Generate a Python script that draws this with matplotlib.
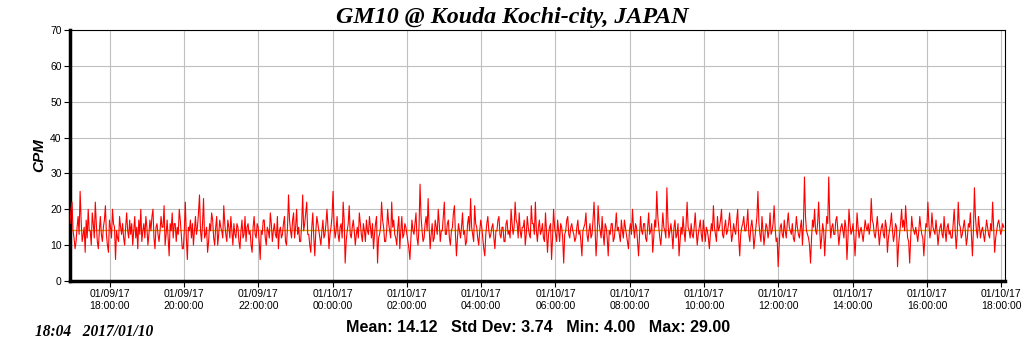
import matplotlib
matplotlib.use("Agg")
import matplotlib.pyplot as plt
import matplotlib.dates as mdates
import pandas as pd

TITLE = "GM10 @ Kouda Kochi-city, JAPAN"
Y_LABEL = "CPM"
STATS = "Mean: 14.12   Std Dev: 3.74   Min: 4.00   Max: 29.00"
STAMP = "18:04   2017/01/10"
MEAN = 14.12
START = "2017-01-09 16:56"
LAST = "2017-01-10 18:04"
END = "2017-01-10 18:06"
Y_TICKS = [0, 10, 20, 30, 40, 50, 60, 70]
X_TICKS = ["2017-01-09 18:00", "2017-01-09 20:00", "2017-01-09 22:00",
           "2017-01-10 00:00", "2017-01-10 02:00", "2017-01-10 04:00",
           "2017-01-10 06:00", "2017-01-10 08:00", "2017-01-10 10:00",
           "2017-01-10 12:00", "2017-01-10 14:00", "2017-01-10 16:00",
           "2017-01-10 18:00"]

cpm = [
    # 17:00 - 18:10
    16, 20, 22, 14, 12, 9, 11, 15, 18, 13, 25, 17, 11, 13, 15, 8, 17, 12, 20, 14,
    14, 10, 19, 16, 12, 22, 16, 11, 9, 14, 18, 13, 11, 15, 17, 21, 13, 10, 8, 17,
    15, 12, 20, 16, 15, 6, 14, 12, 11, 18, 15, 13, 16, 12, 10, 15, 19, 14, 12, 17,
    13, 16, 10, 14, 18, 12, 15, 9, 17, 13, 20, 11, 14, 16, 12, 18, 15, 10, 13, 17,
    # 18:10 - 20:30
    14, 18, 20, 12, 9, 15, 16, 13, 11, 14, 18, 15, 15, 21, 10, 13, 17, 12, 7, 16,
    14, 19, 12, 16, 16, 11, 15, 13, 20, 17, 13, 9, 9, 14, 22, 12, 6, 15, 14, 17,
    12, 16, 10, 14, 18, 13, 15, 19, 24, 14, 11, 16, 23, 12, 13, 15, 8, 11, 16, 14,
    19, 17, 12, 10, 15, 18, 10, 13, 17, 15, 14, 12, 21, 16, 13, 11, 17, 15, 12, 18,
    14, 10, 16, 13,
    # 20:30 - 22:50
    12, 16, 15, 11, 9, 14, 17, 12, 13, 18, 11, 15, 16, 13, 14, 10, 8, 15, 18, 13,
    12, 16, 15, 11, 6, 14, 13, 17, 17, 12, 10, 15, 14, 12, 19, 16, 11, 14, 16, 13,
    12, 18, 9, 14, 15, 12, 13, 16, 18, 11, 10, 15, 24, 17, 14, 12, 17, 19, 12, 15,
    20, 13, 15, 11, 11, 16, 24, 14, 16, 19, 22, 13, 13, 10, 8, 15, 19, 12, 7, 14,
    18, 16, 14, 12,
    # 22:50 - 01:10
    10, 14, 17, 12, 13, 16, 20, 15, 9, 13, 15, 18, 25, 16, 12, 14, 18, 13, 11, 15,
    16, 12, 22, 17, 5, 11, 14, 16, 21, 13, 12, 15, 17, 14, 10, 13, 15, 12, 19, 16,
    13, 11, 16, 14, 11, 17, 14, 13, 18, 15, 12, 16, 9, 13, 16, 18, 5, 12, 13, 15,
    22, 17, 15, 11, 11, 14, 20, 16, 14, 12, 22, 15, 17, 13, 12, 10, 15, 18, 9, 14,
    18, 12, 13, 16,
    # 01:10 - 03:30
    15, 13, 11, 9, 6, 12, 17, 14, 13, 16, 19, 12, 10, 15, 27, 18, 14, 11, 12, 16,
    18, 14, 23, 15, 9, 13, 16, 11, 12, 17, 15, 13, 20, 16, 11, 14, 14, 18, 22, 13,
    13, 16, 17, 12, 10, 14, 15, 19, 21, 13, 7, 12, 16, 14, 12, 15, 19, 13, 14, 10,
    11, 16, 18, 14, 23, 15, 13, 11, 21, 16, 15, 12, 10, 14, 17, 15, 12, 9, 7, 13,
    16, 18, 14, 12,
    # 03:30 - 05:50
    13, 15, 16, 12, 9, 14, 14, 17, 18, 13, 12, 15, 15, 11, 11, 16, 17, 13, 14, 12,
    20, 16, 13, 15, 22, 17, 16, 12, 19, 14, 12, 15, 15, 17, 10, 13, 18, 15, 13, 12,
    21, 16, 16, 13, 22, 14, 11, 15, 17, 13, 14, 16, 12, 11, 19, 14, 8, 13, 15, 16,
    6, 12, 20, 15, 13, 11, 17, 14, 11, 16, 15, 12, 5, 13, 14, 17, 18, 13, 12, 15,
    16, 14, 13, 11,
    # 05:50 - 08:10
    12, 15, 17, 13, 14, 11, 7, 14, 15, 16, 19, 13, 11, 14, 16, 12, 13, 17, 22, 15,
    7, 12, 21, 16, 14, 12, 18, 13, 10, 16, 15, 12, 7, 14, 13, 16, 16, 11, 12, 15,
    19, 14, 15, 13, 11, 17, 14, 12, 17, 15, 13, 11, 9, 14, 16, 13, 20, 15, 12, 16,
    15, 11, 7, 13, 18, 14, 13, 16, 16, 12, 11, 15, 19, 13, 14, 16, 8, 12, 17, 15,
    25, 18, 15, 12,
    # 08:10 - 10:30
    10, 14, 19, 15, 14, 12, 26, 17, 12, 14, 16, 13, 9, 15, 17, 12, 13, 16, 7, 11,
    15, 13, 18, 14, 11, 16, 22, 15, 14, 12, 16, 13, 12, 15, 19, 14, 10, 13, 15, 17,
    13, 11, 17, 14, 11, 15, 14, 12, 9, 13, 16, 14, 21, 15, 13, 11, 18, 14, 15, 17,
    20, 13, 12, 15, 17, 13, 14, 16, 19, 15, 11, 13, 16, 14, 13, 17, 20, 12, 7, 13,
    15, 16, 18, 14,
    # 10:30 - 12:50
    14, 16, 20, 13, 11, 15, 17, 14, 9, 12, 15, 18, 25, 16, 13, 11, 18, 14, 10, 13,
    16, 15, 12, 14, 19, 13, 14, 16, 21, 15, 11, 12, 4, 10, 15, 16, 13, 12, 17, 14,
    12, 16, 19, 15, 14, 13, 16, 12, 11, 14, 18, 15, 13, 12, 15, 17, 10, 16, 29, 18,
    14, 13, 12, 10, 5, 12, 17, 15, 20, 14, 13, 16, 22, 15, 9, 12, 16, 14, 7, 13,
    18, 16, 29, 17,
    # 12:50 - 15:10
    12, 15, 16, 13, 13, 17, 18, 14, 10, 13, 15, 16, 14, 12, 17, 15, 6, 12, 20, 16,
    13, 14, 16, 12, 7, 13, 19, 15, 12, 14, 15, 13, 11, 14, 17, 15, 14, 16, 13, 15,
    23, 17, 16, 13, 12, 15, 18, 14, 10, 13, 15, 16, 13, 12, 17, 15, 8, 12, 14, 16,
    19, 14, 11, 13, 16, 15, 4, 10, 13, 16, 20, 15, 17, 14, 21, 16, 12, 11, 5, 12,
    18, 15, 14, 13,
    # 15:10 - 18:04
    15, 13, 11, 14, 18, 15, 13, 12, 7, 12, 16, 15, 22, 16, 12, 14, 19, 15, 14, 13,
    17, 14, 10, 13, 15, 16, 13, 12, 18, 14, 11, 15, 16, 13, 14, 12, 12, 16, 20, 14,
    9, 13, 22, 16, 15, 12, 13, 15, 17, 14, 10, 12, 16, 15, 19, 13, 7, 14, 26, 18,
    14, 12, 18, 15, 12, 14, 15, 13, 11, 14, 17, 15, 13, 12, 16, 14, 22, 15, 8, 12,
    14, 16, 17, 15, 13, 14, 16, 15,
]

times = pd.date_range(START, LAST, periods=len(cpm))

fig = plt.figure(figsize=(10.24, 3.51), dpi=100)
ax = fig.add_axes([70 / 1024, 1 - 281 / 351, 935 / 1024, 251 / 351])

ax.plot(times, cpm, color="#ff0000", linewidth=0.8, zorder=3)
ax.axhline(MEAN, color="#d9a300", linewidth=1.0, zorder=2)

ax.set_ylim(0, 70)
ax.set_xlim(pd.Timestamp(START), pd.Timestamp(END))
ax.set_yticks(Y_TICKS)
ax.set_xticks([pd.Timestamp(t) for t in X_TICKS])
ax.xaxis.set_major_formatter(mdates.DateFormatter("%m/%d/%y\n%H:%M:%S"))

ax.grid(True, color="#c0c0c0", linewidth=0.8, zorder=0)
ax.set_axisbelow(True)
ax.tick_params(axis="both", labelsize=7.5, length=4, width=0.8, color="black", pad=2)

for side in ("left", "bottom"):
    ax.spines[side].set_linewidth(2.5)
for side in ("top", "right"):
    ax.spines[side].set_linewidth(0.8)

for lbl in ax.get_xticklabels() + ax.get_yticklabels():
    lbl.set_family("Liberation Sans")

ax.set_ylabel(Y_LABEL, fontsize=11, fontweight="bold", fontstyle="italic",
              family="Liberation Sans", labelpad=3)

fig.text(0.5, 1 - 17 / 351, TITLE, ha="center", va="center", fontsize=17.3,
         fontweight="bold", fontstyle="italic", family="Liberation Serif")
fig.text(538 / 1024, 1 - 327 / 351, STATS, ha="center", va="center", fontsize=11.6,
         fontweight="bold", family="Liberation Sans")
fig.text(35 / 1024, 1 - 332 / 351, STAMP, ha="left", va="center", fontsize=11.2,
         fontweight="bold", fontstyle="italic", family="Liberation Serif")

fig.savefig("out.png", dpi=100, facecolor="white")
